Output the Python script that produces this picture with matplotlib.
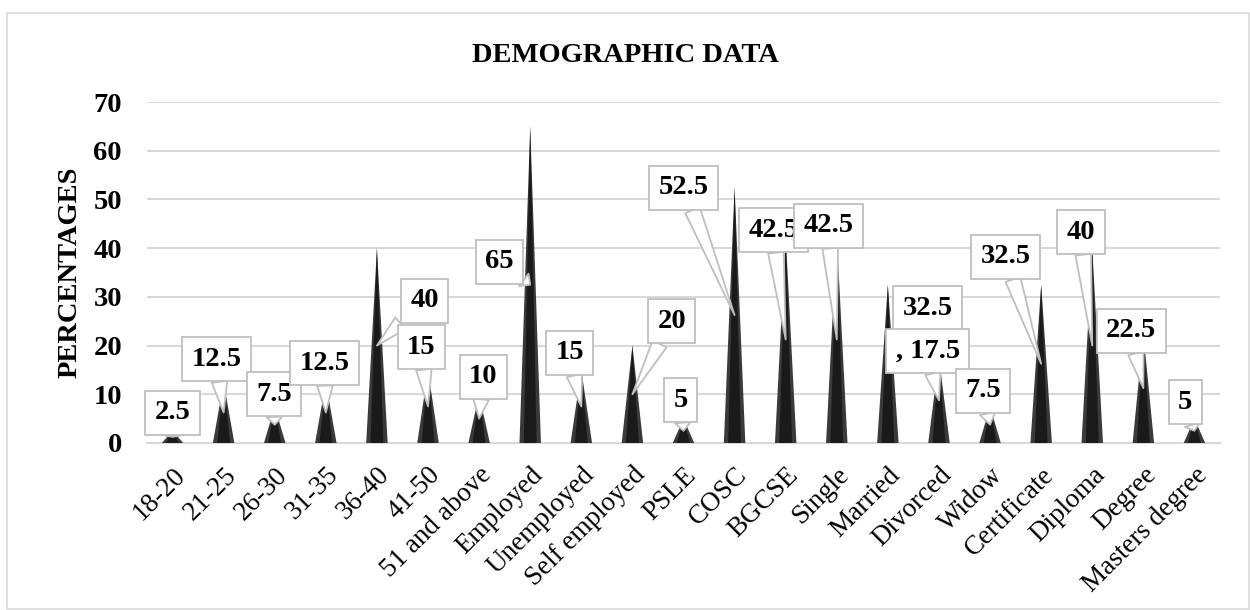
import numpy as np
import matplotlib.pyplot as plt
from matplotlib.patches import Rectangle
from matplotlib.transforms import ScaledTranslation

# categories and percentages
categories = ["18-20", "21-25", "26-30", "31-35", "36-40", "41-50", "51 and above",
              "Employed", "Unemployed", "Self employed", "PSLE", "COSC", "BGCSE",
              "Single", "Married", "Divorced", "Widow", "Certificate", "Diploma",
              "Degree", "Masters degree"]
values = [2.5, 12.5, 7.5, 12.5, 40, 15, 10, 65, 15, 20, 5, 52.5, 42.5, 42.5,
          32.5, 17.5, 7.5, 32.5, 40, 22.5, 5]
label_texts = ["2.5", "12.5", "7.5", "12.5", "40", "15", "10", "65", "15", "20", "5",
               "52.5", "42.5", "42.5", "32.5", ", 17.5", "7.5", "32.5", "40", "22.5", "5"]

# callout box centres (data coords)
box_x = [0.0, 0.86, 1.98, 2.97, 4.93, 4.87, 6.08, 6.4, 7.77, 9.77, 9.95, 10.0,
         11.76, 12.84, 14.78, 14.78, 15.86, 16.3, 17.78, 18.76, 19.82]
box_y = [6.2, 17.2, 10.0, 16.4, 29.2, 19.7, 13.6, 37.2, 18.5, 25.0, 8.8, 52.4,
         43.7, 44.6, 27.7, 18.9, 10.7, 38.2, 43.3, 23.0, 8.4]

plt.rcParams['font.family'] = ['Liberation Serif', 'DejaVu Serif']
FS = 20.5

fig = plt.figure(figsize=(12.5, 6.1), dpi=100)
fig.patches.append(Rectangle((7 / 1250, 0.002), 1 - 8 / 1250, 1 - 13 / 610 - 0.002,
                             transform=fig.transFigure, fill=False,
                             ec='#d9d9d9', lw=1.2))

ax = fig.add_axes([147 / 1250, 1 - 443 / 610, (1220 - 147) / 1250, (443 - 102) / 610])

x = np.arange(len(categories))
half = 0.21
for i, v in zip(x, values):
    # outer lighter cone, inner darker core to fake the shading
    ax.fill([i - half, i, i + half], [0, v, 0], color='#3a3a3a', lw=0, zorder=3)
    ax.fill([i - half * 0.6, i, i + half * 0.6], [0, v, 0], color='#1a1a1a', lw=0, zorder=3)

for i, v in enumerate(values):
    ax.annotate(label_texts[i], xy=(i, v / 2), xytext=(box_x[i], box_y[i]),
                ha='center', va='center', fontsize=FS, fontweight='bold',
                bbox=dict(boxstyle='square,pad=0.33', fc='white', ec='#bfbfbf', lw=1.3),
                arrowprops=dict(arrowstyle='wedge,tail_width=0.55', fc='white',
                                ec='#bfbfbf', lw=1.3, shrinkA=0, shrinkB=0),
                zorder=5)

ax.set_xlim(-0.5, len(categories) - 0.5)
ax.set_ylim(0, 70)
ax.set_yticks(range(0, 71, 10))
ax.set_yticklabels([str(t) for t in range(0, 71, 10)], fontsize=FS, fontweight='bold')
ax.set_xticks(x)
ax.set_xticklabels(categories, fontsize=19.5, rotation=45, ha='right',
                   va='top', rotation_mode='anchor')
shift = ScaledTranslation(7 / 100, -2 / 100, fig.dpi_scale_trans)
for lab in ax.get_xticklabels():
    lab.set_transform(lab.get_transform() + shift)
ax.tick_params(axis='both', length=0)
ax.tick_params(axis='y', pad=18)
ax.tick_params(axis='x', pad=14)

ax.grid(axis='y', color='#d9d9d9', lw=1.5)
ax.set_axisbelow(True)
for s in ['top', 'right', 'left']:
    ax.spines[s].set_visible(False)
ax.spines['bottom'].set_color('#d9d9d9')
ax.spines['bottom'].set_linewidth(1.5)

ax.set_ylabel('PERCENTAGES', fontsize=FS, fontweight='bold', labelpad=8)
fig.text(0.5, 1 - 55 / 610, 'DEMOGRAPHIC DATA', ha='center', va='center',
         fontsize=FS, fontweight='bold')

fig.savefig('out.png', dpi=100)
